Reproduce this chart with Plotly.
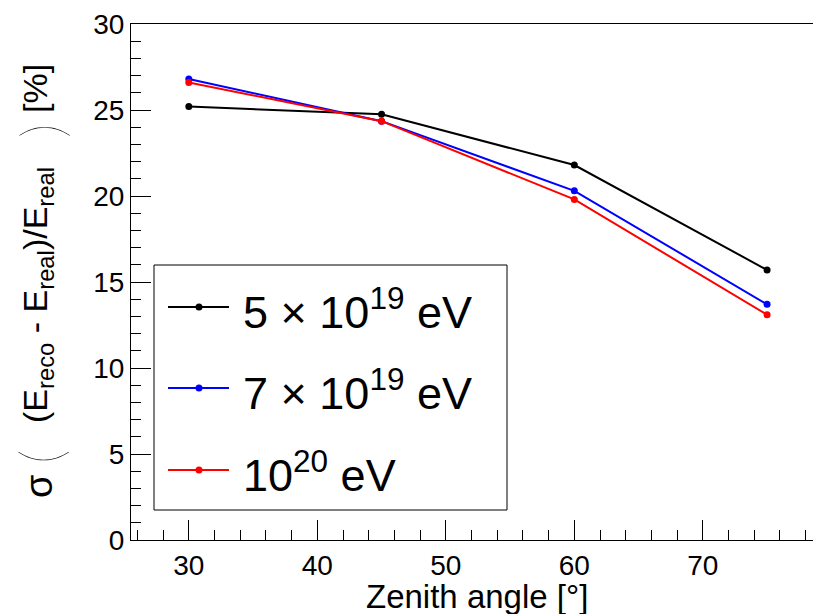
import plotly.graph_objects as go

# ---- data ----
zenith = [30, 45, 60, 75]
series_names = ["5 × 10<sup>19</sup> eV", "7 × 10<sup>19</sup> eV", "10<sup>20</sup> eV"]
series_colors = ["black", "blue", "red"]
res_5e19 = [25.2, 24.75, 21.8, 15.7]
res_7e19 = [26.8, 24.35, 20.3, 13.7]
res_1e20 = [26.6, 24.35, 19.8, 13.1]
series_values = [res_5e19, res_7e19, res_1e20]

x_ticks = [30, 40, 50, 60, 70]
y_ticks = [0, 5, 10, 15, 20, 25, 30]

W, H = 813, 614
L, R, T, B = 131, 0, 24, 74
PW, PH = W - L - R, H - T - B

def px_x(p):
    return (p - L) / PW

def px_y(p):
    return (H - B - p) / PH

FONT = "Liberation Sans, Arial, Helvetica, sans-serif"
THIN = "Lato Hairline, Lato Thin, Lato Light, Lato, sans-serif"

fig = go.Figure()
for name, col, vals in zip(series_names, series_colors, series_values):
    fig.add_trace(go.Scatter(
        x=zenith, y=vals, mode="lines+markers", name=name,
        line=dict(color=col, width=2),
        marker=dict(color=col, size=7),
        showlegend=False,
    ))

# ---- manual legend (box, samples, labels) ----
fig.add_shape(type="rect", xref="paper", yref="paper",
              x0=px_x(154), x1=px_x(507), y0=px_y(510), y1=px_y(265),
              line=dict(color="black", width=1), fillcolor="white", layer="above")
row_y = [307, 388, 470]
for ry, name, col in zip(row_y, series_names, series_colors):
    fig.add_shape(type="line", xref="paper", yref="paper",
                  x0=px_x(168), x1=px_x(229), y0=px_y(ry), y1=px_y(ry),
                  line=dict(color=col, width=2), layer="above")
    fig.add_shape(type="circle", xref="paper", yref="paper",
                  x0=px_x(195.5), x1=px_x(202.5), y0=px_y(ry + 3.5), y1=px_y(ry - 3.5),
                  line=dict(color=col, width=0), fillcolor=col, layer="above")
    fig.add_annotation(xref="paper", yref="paper", x=px_x(241), y=px_y(ry + 2),
                       text=name, showarrow=False, xanchor="left", yanchor="middle",
                       font=dict(family=FONT, size=45, color="black"))

# ---- y-axis title, in pieces (rotated) ----
ytitle_parts = [
    ("σ", 487, 39, FONT, 38, None),
    ("(", 457, 40, THIN, 58, 100),
    ("(E<sub>reco</sub> - E<sub>real</sub>)/E<sub>real</sub>", 295, 37, FONT, 34, None),
    (")", 131, 40, THIN, 58, 100),
    ("[%]", 88, 35, FONT, 34, None),
]
for txt, cy, cx, fam, fs, wt in ytitle_parts:
    f = dict(family=fam, size=fs, color="black")
    if wt:
        f["weight"] = wt
    fig.add_annotation(xref="paper", yref="paper", x=px_x(cx), y=px_y(cy),
                       text=txt, textangle=-90, showarrow=False,
                       xanchor="center", yanchor="middle", font=f)

# ---- x-axis title ----
fig.add_annotation(xref="paper", yref="paper", x=px_x(477), y=px_y(596),
                   text="Zenith angle [°]", showarrow=False,
                   xanchor="center", yanchor="middle",
                   font=dict(family=FONT, size=33, color="black"))

fig.update_layout(
    width=W, height=H,
    margin=dict(l=L, r=R, t=T, b=B, pad=0),
    paper_bgcolor="white", plot_bgcolor="white",
    font=dict(family=FONT, color="black"),
    xaxis=dict(
        range=[25.5, 25.5 + PW / 12.85],
        tickvals=x_ticks, ticks="inside", ticklen=20, tickwidth=1, tickcolor="black",
        minor=dict(dtick=2, ticks="inside", ticklen=10, tickwidth=1, tickcolor="black", showgrid=False),
        showline=True, linecolor="black", linewidth=1, mirror=True,
        showgrid=False, zeroline=False,
        tickfont=dict(size=28, family=FONT),
    ),
    yaxis=dict(
        range=[0, 30],
        tickvals=y_ticks, ticks="inside", ticklen=20, tickwidth=1, tickcolor="black",
        minor=dict(dtick=1, ticks="inside", ticklen=10, tickwidth=1, tickcolor="black", showgrid=False),
        showline=True, linecolor="black", linewidth=1, mirror=False,
        showgrid=False, zeroline=False,
        tickfont=dict(size=28, family=FONT),
    ),
)

fig.write_html("out.html")
